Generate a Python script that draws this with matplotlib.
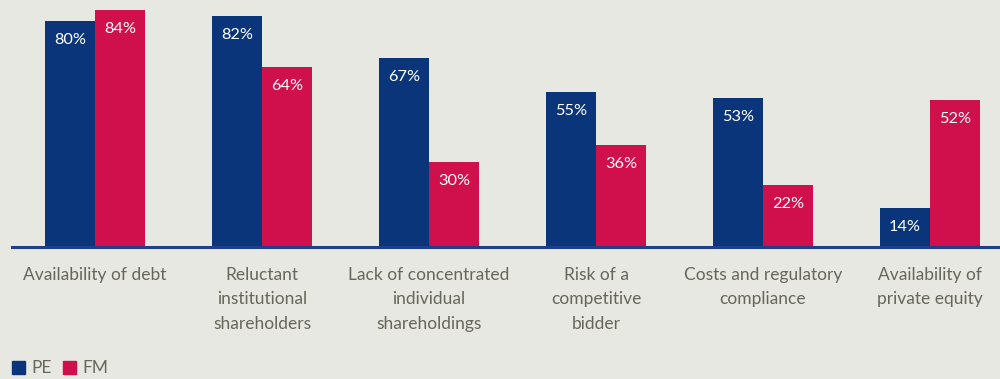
import matplotlib.pyplot as plt
import numpy as np

categories = ["Availability of debt",
              "Reluctant\ninstitutional\nshareholders",
              "Lack of concentrated\nindividual\nshareholdings",
              "Risk of a\ncompetitive\nbidder",
              "Costs and regulatory\ncompliance",
              "Availability of\nprivate equity"]
pe = [80, 82, 67, 55, 53, 14]
fm = [84, 64, 30, 36, 22, 52]

PE_COL = "#0b357a"
FM_COL = "#d0104c"
BG = "#e8e8e2"
TXT = "#66665a"

plt.rcParams['font.family'] = ['Lato', 'DejaVu Sans']

fig = plt.figure(figsize=(10, 3.79), dpi=100, facecolor=BG)
ax = fig.add_axes([0.012, 132 / 379, 0.988, 247 / 379])
ax.set_facecolor(BG)

x = np.arange(len(categories))
w = 0.3
b1 = ax.bar(x - w / 2, pe, w, color=PE_COL)
b2 = ax.bar(x + w / 2, fm, w, color=FM_COL)

# value labels sit just inside the top of each bar
for bars, vals in ((b1, pe), (b2, fm)):
    for r, v in zip(bars, vals):
        ax.annotate(f"{v}%", (r.get_x() + r.get_width() / 2, v),
                    xytext=(0, -19), textcoords="offset pixels",
                    ha="center", va="center", color="white", fontsize=11.8)

ax.set_xlim(-0.497, 5.419)
ax.set_ylim(0, 87.6)
for s in ax.spines.values():
    s.set_visible(False)
ax.axhline(0, color="#1d3f8c", lw=2.2, clip_on=False)
ax.set_yticks([])
ax.set_xticks([])

for i, c in enumerate(categories):
    ax.text(i, -7, c, ha="center", va="top", color=TXT, fontsize=12.5,
            linespacing=1.67)

# legend
fig.patches.append(plt.Rectangle((12 / 1000, (379 - 374) / 379), 13 / 1000, 13 / 379,
                                 transform=fig.transFigure, color=PE_COL))
fig.text(31 / 1000, (379 - 368) / 379, "PE", color=TXT, fontsize=12.5, va="center")
fig.patches.append(plt.Rectangle((63 / 1000, (379 - 374) / 379), 13 / 1000, 13 / 379,
                                 transform=fig.transFigure, color=FM_COL))
fig.text(82 / 1000, (379 - 368) / 379, "FM", color=TXT, fontsize=12.5, va="center")

fig.savefig("out.png", dpi=100, facecolor=BG)
